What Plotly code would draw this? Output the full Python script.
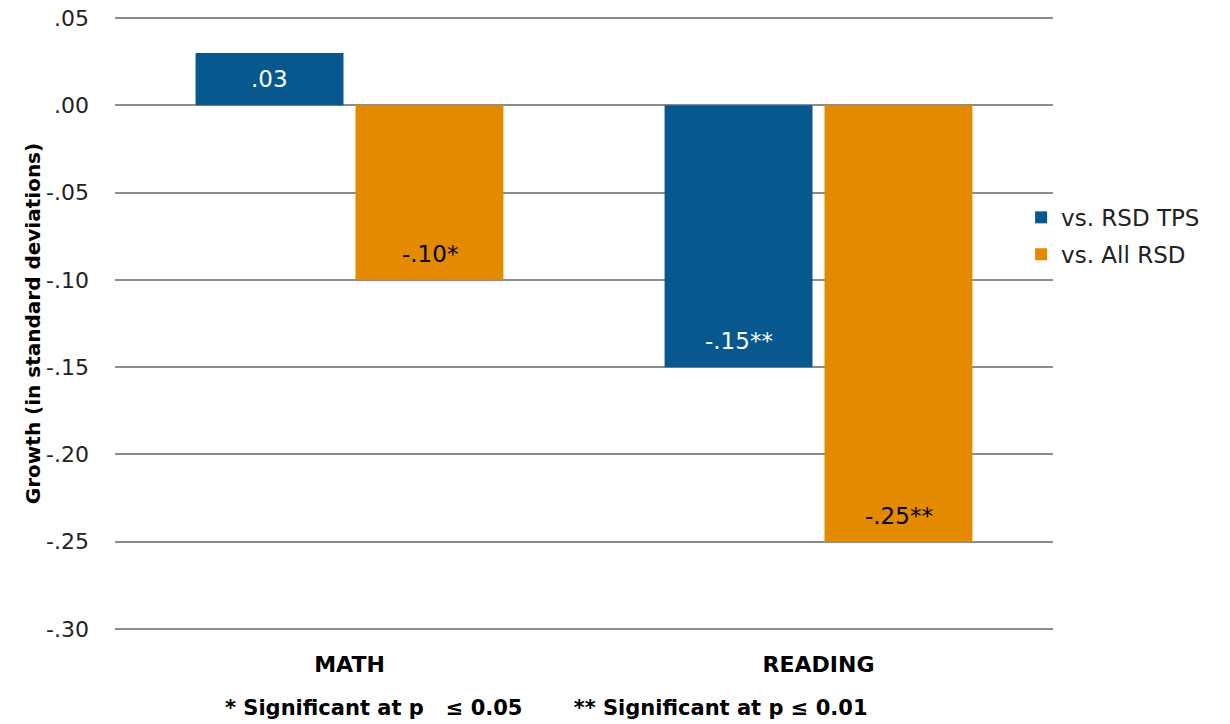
import plotly.graph_objects as go

categories = ["MATH", "READING"]
series_names = ["vs. RSD TPS", "vs. All RSD"]
tps_values = [0.03, -0.15]
all_values = [-0.10, -0.25]
tps_labels = [".03", "-.15**"]
all_labels = ["-.10*", "-.25**"]
tick_values = [0.05, 0.00, -0.05, -0.10, -0.15, -0.20, -0.25, -0.30]
tick_text = [".05", ".00", "-.05", "-.10", "-.15", "-.20", "-.25", "-.30"]

series = [
    (series_names[0], tps_values, tps_labels, "#06588f", "white", -80),
    (series_names[1], all_values, all_labels, "#e48a00", "black", 80),
]

fig = go.Figure()
for name, vals, labels, color, txtcolor, xoff in series:
    fig.add_trace(go.Bar(
        x=categories, y=vals, name=name, legendgroup=name,
        marker=dict(color=color, line=dict(width=0)),
        hoverinfo="x+y",
    ))
    # value labels sit just inside the far end of each bar
    for cat, v, lab in zip(categories, vals, labels):
        fig.add_annotation(
            x=cat, y=v, text=lab, showarrow=False,
            xshift=xoff, yshift=-26 if v > 0 else 26,
            xanchor="center", yanchor="middle",
            font=dict(family="DejaVu Sans", size=23, color=txtcolor),
        )

fig.update_layout(
    width=1230, height=724,
    margin=dict(l=115, r=177, t=15, b=92, autoexpand=False),
    plot_bgcolor="white", paper_bgcolor="white",
    barmode="group", bargap=0.318, bargroupgap=0.075,
    showlegend=True,
    legend=dict(x=0.966, y=0.642, xanchor="left", yanchor="middle",
                font=dict(family="DejaVu Sans", size=23, color="#222222"),
                itemwidth=30, traceorder="grouped", tracegroupgap=4,
                bgcolor="rgba(0,0,0,0)"),
)
fig.update_yaxes(
    range=[-0.30172, 0.05172], tickvals=tick_values, ticktext=tick_text,
    showgrid=True, gridcolor="#8c8c8c", gridwidth=2,
    zeroline=False, showline=False, ticks="",
    tickfont=dict(family="DejaVu Sans", size=22, color="#222222"),
    ticklabelstandoff=25,
    title=dict(text="<b>Growth (in standard deviations)</b>",
               font=dict(family="DejaVu Sans", size=20, color="black"),
               standoff=0),
)
fig.update_xaxes(
    showgrid=False, showline=False, ticks="",
    tickfont=dict(family="DejaVu Sans", size=22, color="black"),
    tickvals=categories, ticktext=["<b>MATH</b>", "<b>READING</b>"],
    ticklabelstandoff=17,
)
fig.add_annotation(
    text="<b>* Significant at p   \u2264 0.05       ** Significant at p \u2264 0.01</b>",
    xref="paper", yref="paper", x=0.4605, y=0, yshift=-76,
    xanchor="center", yanchor="middle", showarrow=False,
    font=dict(family="DejaVu Sans", size=21, color="black"),
)

fig.write_html("out.html")
